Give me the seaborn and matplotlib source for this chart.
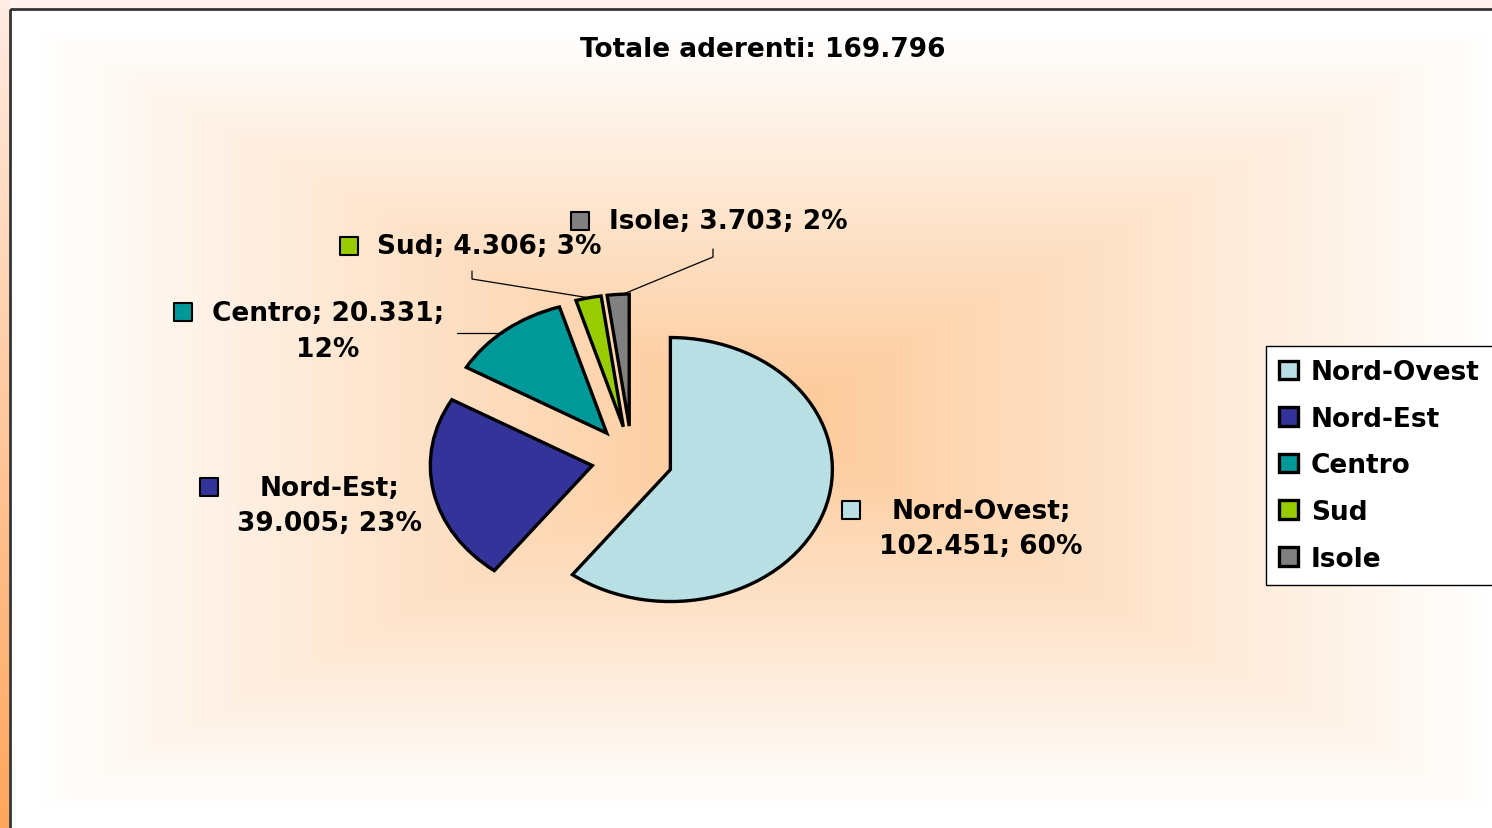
import numpy as np
import seaborn as sns
import matplotlib.pyplot as plt
from matplotlib.patches import Rectangle

# data
regions = ['Nord-Ovest', 'Nord-Est', 'Centro', 'Sud', 'Isole']
members = [102451, 39005, 20331, 4306, 3703]
shares = [60, 23, 12, 3, 2]
total_label = '169.796'
colors = ['#B8E0E4', '#333399', '#009999', '#99CC00', '#808080']

sns.set_theme(style='white')
plt.rcParams['font.family'] = ['DejaVu Sans']

W, H = 1492, 829
fig = plt.figure(figsize=(W / 100, H / 100), dpi=100)

# background: rectangular gradient from orange centre to white
bg = fig.add_axes([0, 0, 1, 1], zorder=0)
yy, xx = np.mgrid[0:H, 0:W]
cx, cy, hx, hy = 765, 420, 725, 390
t = np.clip(np.maximum(np.abs(xx - cx) / hx, np.abs(yy - cy) / hy), 0, 1)
centre = np.array([253, 200, 150]) / 255
white = np.array([255, 255, 255]) / 255
img = centre + (white - centre) * t[..., None]
img[:9, :] = np.array([254, 240, 236]) / 255
strip_top = np.array([254, 236, 226]) / 255
strip_bot = np.array([255, 166, 92]) / 255
f = np.linspace(0, 1, H)[:, None, None]
img[:, :9] = strip_top + (strip_bot - strip_top) * f
bg.imshow(img, extent=(0, W, H, 0), aspect='auto', interpolation='bilinear')
bg.set_xlim(0, W)
bg.set_ylim(H, 0)
bg.add_patch(Rectangle((10, 10), W, H, fill=False, edgecolor='#333333', lw=2.0))
bg.axis('off')

# pie (elliptical: x unit 162 px, y unit 132 px)
rx, ry = 162, 132
pax = fig.add_axes([0, 0, 1, 1], zorder=1)
pax.patch.set_alpha(0)
wedges, _ = pax.pie(members, colors=colors, startangle=90, counterclock=False,
                    explode=[0.25] * len(members),
                    center=(632 / rx, (H - 460) / ry), radius=1,
                    wedgeprops=dict(edgecolor='black', linewidth=2.4))
pax.set_aspect('auto')
pax.set_xlim(0, W / rx)
pax.set_ylim(0, H / ry)
pax.axis('off')

# overlay in pixel coordinates for labels
ov = fig.add_axes([0, 0, 1, 1], zorder=2)
ov.patch.set_alpha(0)
ov.set_xlim(0, W)
ov.set_ylim(H, 0)
ov.axis('off')

fs = 19
ov.text(763, 50, f'Totale aderenti: {total_label}', ha='center', va='center',
        fontsize=fs, fontweight='bold', color='black')

def fmt(v):
    return f'{v:,}'.replace(',', '.')

label_layout = {
    'Nord-Ovest': ((981, 529.5), (851, 511), True),
    'Nord-Est': ((329.5, 506.5), (209, 488), True),
    'Centro': ((328, 332), (183, 313), True),
    'Sud': ((489.5, 247), (349, 247), False),
    'Isole': ((728, 222), (580, 222), False),
}

for name, val, pct, col in zip(regions, members, shares, colors):
    (tx, ty), (kx, ky), two = label_layout[name]
    if name == 'Centro':
        txt = f'{name}; {fmt(val)};\n{pct}%'
    elif two:
        txt = f'{name};\n{fmt(val)}; {pct}%'
    else:
        txt = f'{name}; {fmt(val)}; {pct}%'
    ov.text(tx, ty, txt, ha='center', va='center', multialignment='center',
            fontsize=fs, fontweight='bold', color='black', linespacing=1.48)
    ov.scatter([kx], [ky], marker='s', s=170, color=col,
               edgecolor='black', linewidth=1.5, zorder=3)

# leader lines
ov.plot([457, 503], [334, 334], color='black', lw=0.9)
ov.plot([472, 472, 590], [272, 280, 299], color='black', lw=0.9)
ov.plot([713, 713, 621], [250, 258, 296], color='black', lw=0.9)

leg = ov.legend(wedges, regions, loc='upper left', bbox_to_anchor=(1266, 347),
                bbox_transform=ov.transData, borderaxespad=0, frameon=True,
                fancybox=False, framealpha=1, facecolor='white', edgecolor='black',
                prop=dict(size=fs, weight='bold'), labelcolor='black',
                handlelength=0.7, handleheight=0.7, handletextpad=0.5,
                labelspacing=0.78, borderpad=0.5)
leg.get_frame().set_linewidth(1.0)

fig.savefig('out.png', dpi=100)
